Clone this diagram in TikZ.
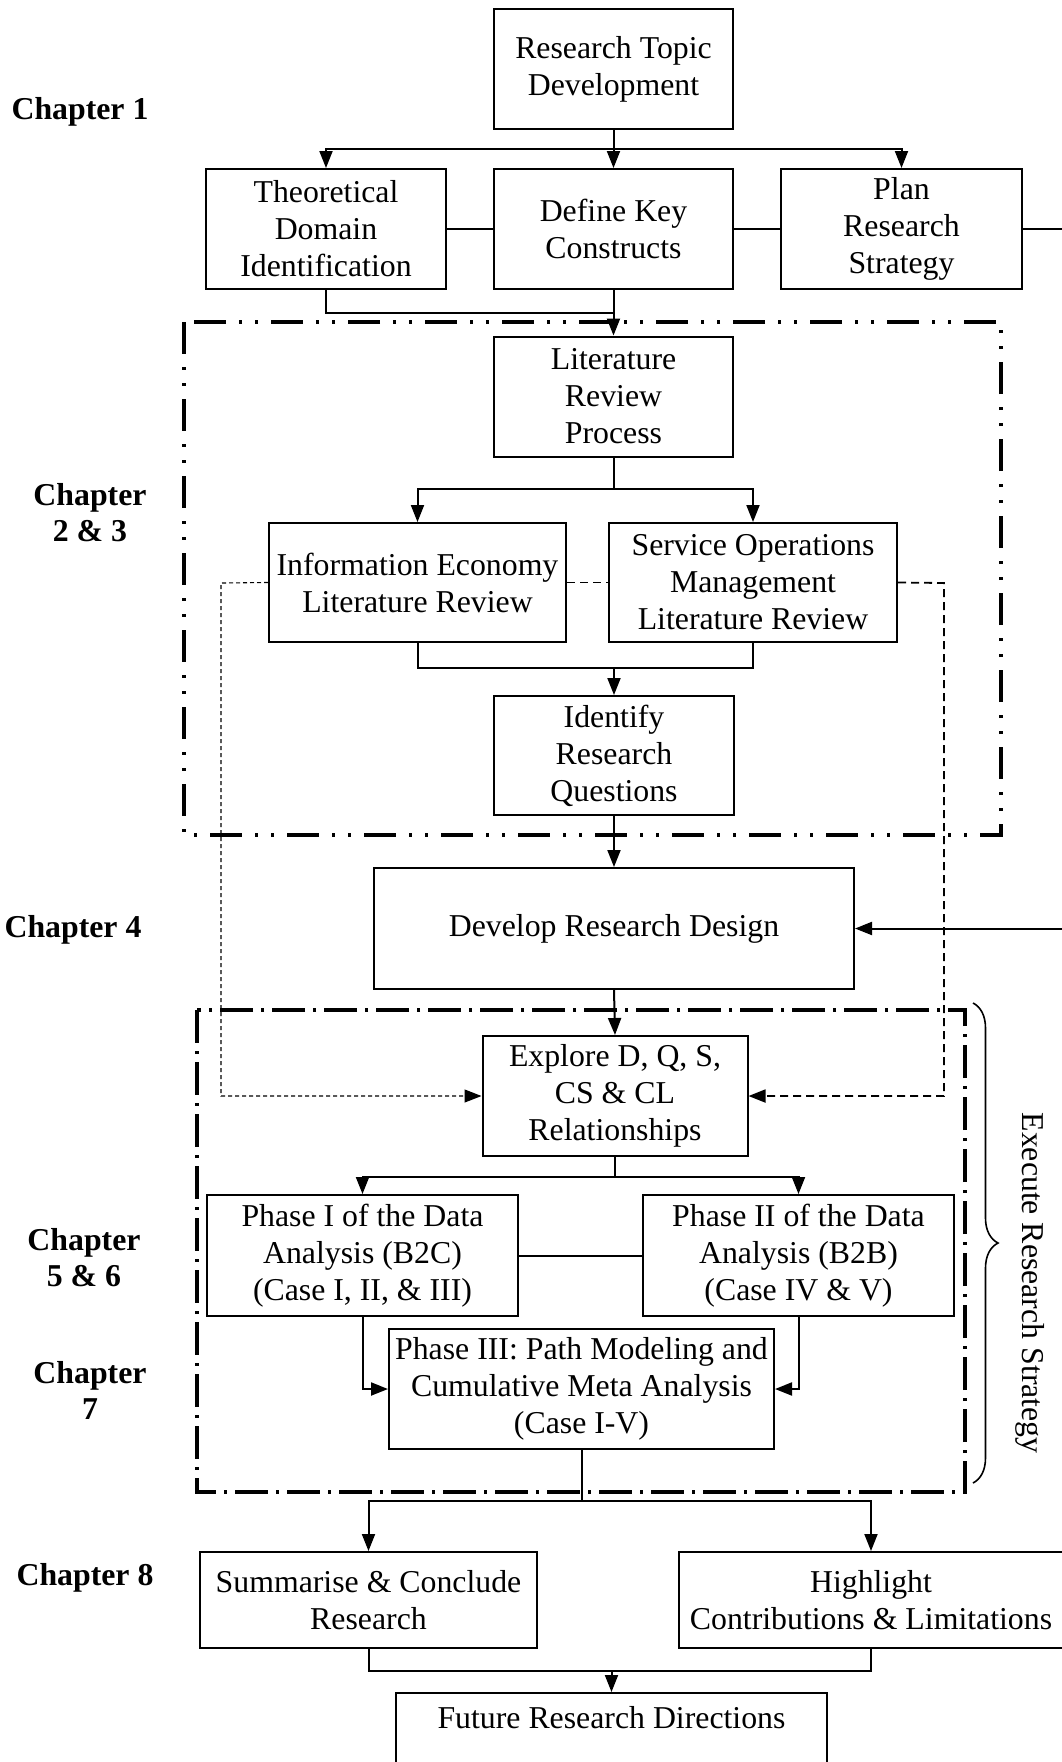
\documentclass[tikz,border=0pt]{standalone}
\usepackage{fontspec}
\setmainfont{Liberation Serif}
\usetikzlibrary{arrows.meta,decorations.pathreplacing}
\begin{document}
\begin{tikzpicture}[x=0.5pt,y=-0.5pt,
  font=\fontsize{15.9pt}{18.5pt}\selectfont,
  box/.style={draw, line width=1pt, align=center, inner sep=0pt},
  chap/.style={font=\fontsize{15.9pt}{18pt}\selectfont\bfseries, align=center, inner sep=0pt},
  tip/.style={-{Triangle[length=8.5pt,width=6.5pt]}},
  link/.style={line width=1pt},
  arr/.style={link, tip},
  finedash/.style={line width=0.55pt, dash pattern=on 2pt off 1.5pt, tip},
  coarsedash/.style={line width=0.9pt, dash pattern=on 4pt off 2.5pt},
  frameA/.style={line width=1.9pt, dash pattern=on 16pt off 6.5pt on 1.5pt off 6.5pt on 1.5pt off 6.5pt},
  frameB/.style={line width=1.9pt, dash pattern=on 16.5pt off 4pt on 1.5pt off 4pt}]
\useasboundingbox (0,0) rectangle (1061,1762);

% chapter frames
\draw[frameA] (184,322) rectangle (1001,835);
\draw[frameB] (197,1010) rectangle (965,1492);

% chapter labels
\node[chap] (c1) at (80,112) {Chapter 1};
\node[chap] (c23) at (90,513) {Chapter\\2 \& 3};
\node[chap] (c4) at (73,930) {Chapter 4};
\node[chap] (c56) at (84,1258) {Chapter\\5 \& 6};
\node[chap] (c7) at (90,1390) {Chapter\\7};
\node[chap] (c8) at (85,1578) {Chapter 8};

% process boxes
\node[box, minimum width=119.5pt, minimum height=60pt] (topic) at (613.5,69) {Research Topic\\Development};
\node[box, minimum width=120pt, minimum height=60pt] (theo) at (326,229) {Theoretical\\Domain\\Identification};
\node[box, minimum width=119.5pt, minimum height=60pt] (keys) at (613.5,229) {Define Key\\Constructs};
\node[box, minimum width=120.5pt, minimum height=60pt] (plan) at (901.5,229) {Plan\\Research\\Strategy};
\node[box, minimum width=119.5pt, minimum height=60pt] (litrev) at (613.5,396.5) {Literature\\Review\\Process};
\node[box, minimum width=148.5pt, minimum height=59.5pt] (ie) at (417.5,582.5) {Information Economy\\Literature Review};
\node[box, minimum width=144pt, minimum height=59.5pt] (som) at (753,582.5) {Service Operations\\Management\\Literature Review};
\node[box, minimum width=120pt, minimum height=59.5pt] (irq) at (614,755.5) {Identify\\Research\\Questions};
\node[box, minimum width=240pt, minimum height=60.5pt] (drd) at (614,928.5) {Develop Research Design};
\node[box, minimum width=132.5pt, minimum height=60pt] (explore) at (615,1096) {Explore D, Q, S,\\CS \& CL\\Relationships};
\node[box, minimum width=155.5pt, minimum height=60.5pt] (ph1) at (362.5,1255.5) {Phase I of the Data\\Analysis (B2C)\\(Case I, II, \& III)};
\node[box, minimum width=155.5pt, minimum height=60.5pt] (ph2) at (798.5,1255.5) {Phase II of the Data\\Analysis (B2B)\\(Case IV \& V)};
\node[box, minimum width=192.5pt, minimum height=60pt] (ph3) at (581.5,1389) {Phase III: Path Modeling and\\Cumulative Meta Analysis\\(Case I-V)};
\node[box, minimum width=168.5pt, minimum height=48pt] (summ) at (368.5,1600) {Summarise \& Conclude\\Research};
\node[box, minimum width=192pt, minimum height=48pt] (high) at (871,1600) {Highlight\\Contributions \& Limitations};
\node[box, minimum width=215.5pt, minimum height=48pt] (future) at (611.5,1741) {Future Research Directions\\\strut};

% chapter 1 connectors
\coordinate (j1) at (613.5,149);
\draw[link] (topic.south) -- (j1);
\draw[arr] (j1) -- (keys.north);
\draw[arr] (j1) -| (theo.north);
\draw[arr] (j1) -| (plan.north);
\draw[link] (theo.east) -- (keys.west);
\draw[link] (keys.east) -- (plan.west);
\coordinate (rt) at (1080,229);
\draw[arr] (plan.east) -- (rt) |- (drd.east);
\coordinate (j2) at (613.5,313);
\draw[link] (theo.south) |- (j2);
\draw[arr] (keys.south) -- (litrev.north);

% literature review connectors
\coordinate (j3) at (613.5,489);
\draw[link] (litrev.south) -- (j3);
\draw[arr] (j3) -| (ie.north);
\draw[arr] (j3) -| (som.north);
\coordinate (j4) at (614,668);
\draw[link] (ie.south) |- (j4);
\draw[link] (som.south) |- (j4);
\draw[arr] (j4) -- (irq.north);
\draw[arr] (irq.south) -- (drd.north);
\draw[arr] (drd.south) -- (explore.north);

% dashed feeds from the reviews
\coordinate (dl) at (221,583);
\coordinate (dr) at (944,583);
\draw[finedash] (ie.west) -- (dl) |- (explore.west);
\draw[coarsedash] (ie.east) -- (som.west);
\draw[coarsedash, tip] (som.east) -- (dr) |- (explore.east);

% analysis connectors
\coordinate (j5) at (615,1177);
\draw[link] (explore.south) -- (j5);
\draw[arr] (j5) -| (ph1.north);
\draw[arr] (j5) -| (ph2.north);
\draw[link] (ph1.east) -- (ph2.west);
\draw[arr] (ph1.south) |- (ph3.west);
\draw[arr] (ph2.south) |- (ph3.east);

% conclusion connectors
\coordinate (j6) at (581.5,1501);
\draw[link] (ph3.south) -- (j6);
\draw[arr] (j6) -| (summ.north);
\draw[arr] (j6) -| (high.north);
\coordinate (j7) at (611.5,1671);
\draw[link] (summ.south) |- (j7);
\draw[link] (high.south) |- (j7);
\draw[arr] (j7) -- (future.north);

% execution brace
\draw[line width=0.8pt, decorate, decoration={brace, amplitude=12.5pt}] (973,1003) -- (973,1483);
\node[rotate=-90] (exec) at (1030,1283) {Execute Research Strategy};
\end{tikzpicture}
\end{document}
